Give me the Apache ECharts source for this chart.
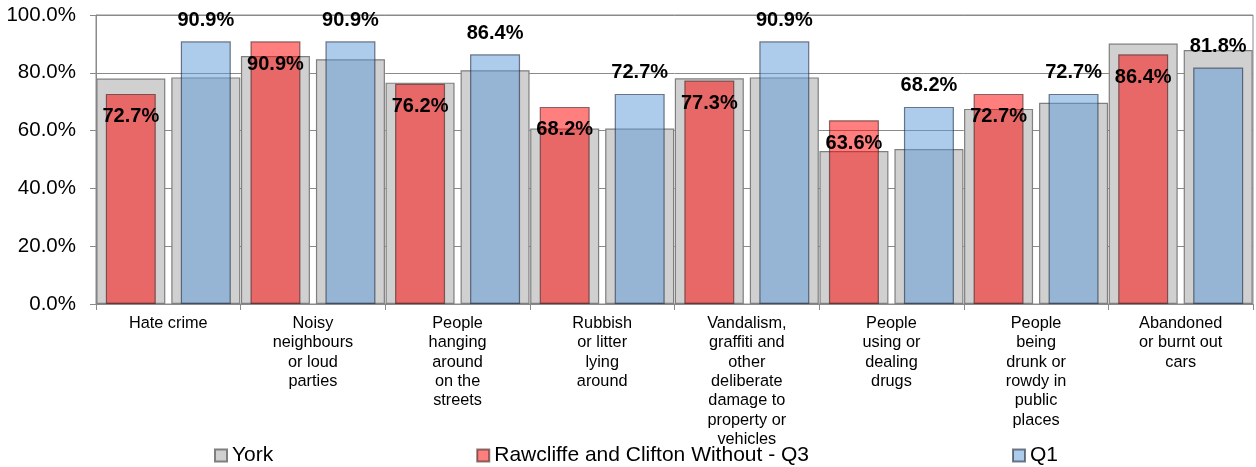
<!DOCTYPE html>
<html>
<head>
<meta charset="utf-8">
<script src="https://cdn.jsdelivr.net/npm/echarts@6/dist/echarts.min.js"></script>
<style>html,body{margin:0;padding:0;background:#fff}#c{width:1256px;height:467px}</style>
</head>
<body>
<div id="c"></div>
<script>
const categories = [
  'Hate crime',
  'Noisy\nneighbours\nor loud\nparties',
  'People\nhanging\naround\non the\nstreets',
  'Rubbish\nor litter\nlying\naround',
  'Vandalism,\ngraffiti and\nother\ndeliberate\ndamage to\nproperty or\nvehicles',
  'People\nusing or\ndealing\ndrugs',
  'People\nbeing\ndrunk or\nrowdy in\npublic\nplaces',
  'Abandoned\nor burnt out\ncars'
];
const yorkQ3 = [78.0, 85.8, 76.6, 60.7, 78.1, 52.9, 67.5, 90.1];
const yorkQ1 = [78.4, 84.7, 80.9, 60.7, 78.4, 53.6, 69.6, 87.9];
const rawcliffeQ3 = [72.7, 90.9, 76.2, 68.2, 77.3, 63.6, 72.7, 86.4];
const q1 = [90.9, 90.9, 86.4, 72.7, 90.9, 68.2, 72.7, 81.8];
const yTicks = {min: 0, max: 100, interval: 20};

const FONT = "'Liberation Sans', Arial, sans-serif";
const chart = echarts.init(document.getElementById('c'));
const pct = v => (typeof v === 'object' ? v.value : v).toFixed(1) + '%';
const grayStyle = {color: '#d0d0d0', borderColor: '#7f7f7f', borderWidth: 1.2};
const valLabel = (pos, dist) => ({
  show: true, position: pos, distance: dist, color: '#000',
  fontFamily: FONT, fontWeight: 'bold', fontSize: 20,
  formatter: p => pct(p.value)
});
chart.setOption({
  animation: false,
  textStyle: {fontFamily: FONT},
  grid: {left: 96, right: 3, top: 15, bottom: 163, show: true, borderColor: '#8a8a8a', borderWidth: 1},
  legend: {
    data: ['York', 'Rawcliffe and Clifton Without - Q3', 'Q1'],
    left: 209, top: 440, itemWidth: 12, itemHeight: 12, itemGap: 203,
    textStyle: {fontFamily: FONT, fontSize: 21, color: '#000'},
    icon: 'rect'
  },
  xAxis: [
    {type: 'category', data: categories,
     axisLine: {lineStyle: {color: '#8a8a8a'}},
     axisTick: {show: true, length: 6, lineStyle: {color: '#8a8a8a'}},
     axisLabel: {interval: 0, margin: 10, fontSize: 16.3, lineHeight: 19.3, color: '#000', fontFamily: FONT}},
    {type: 'category', data: categories, show: false}
  ],
  yAxis: {
    type: 'value', min: yTicks.min, max: yTicks.max, interval: yTicks.interval,
    axisLine: {show: true, lineStyle: {color: '#8a8a8a'}},
    axisTick: {show: true, length: 6, lineStyle: {color: '#8a8a8a'}},
    splitLine: {lineStyle: {color: '#8a8a8a', width: 1}},
    axisLabel: {margin: 20, fontSize: 20.5, color: '#000', fontFamily: FONT, formatter: v => v.toFixed(1) + '%'}
  },
  series: [
    {name: 'York', type: 'bar', xAxisIndex: 0, data: yorkQ3, barWidth: 69, barGap: '8.7%', itemStyle: grayStyle, z: 2},
    {name: 'York', type: 'bar', xAxisIndex: 0, data: yorkQ1, barWidth: 69, barGap: '8.7%', itemStyle: grayStyle, z: 2},
    {name: 'Rawcliffe and Clifton Without - Q3', type: 'bar', xAxisIndex: 1, data: rawcliffeQ3, barWidth: 50, barGap: '50%',
     itemStyle: {color: 'rgba(255,0,0,0.5)', borderColor: 'rgba(60,30,30,0.6)', borderWidth: 1.2}, z: 3,
     label: valLabel('insideTop', 13)},
    {name: 'Q1', type: 'bar', xAxisIndex: 1, data: q1, barWidth: 50, barGap: '50%',
     itemStyle: {color: 'rgba(91,151,213,0.5)', borderColor: 'rgba(30,40,60,0.6)', borderWidth: 1.2}, z: 3,
     label: valLabel('top', 11)}
  ]
});
</script>
</body>
</html>
